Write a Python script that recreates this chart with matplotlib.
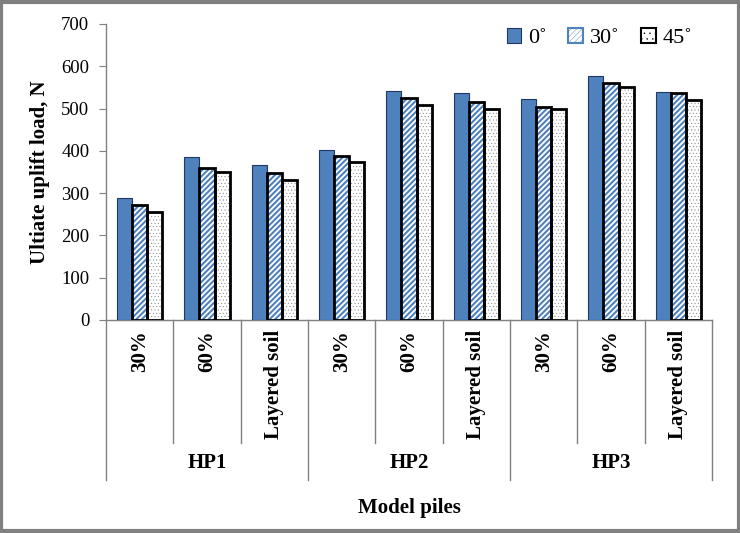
import matplotlib
matplotlib.use("Agg")
import matplotlib.pyplot as plt
from matplotlib.patches import Patch
from matplotlib.lines import Line2D
import numpy as np

plt.rcParams['font.family'] = ['Liberation Serif', 'DejaVu Serif']

groups = ['HP1', 'HP2', 'HP3']
subcats = ['30%', '60%', 'Layered soil']
series_names = ['0˚', '30˚', '45˚']
v0 = [288, 385, 366, 402, 542, 537, 522, 578, 540]
v30 = [272, 360, 348, 388, 526, 515, 503, 560, 536]
v45 = [256, 350, 332, 374, 508, 498, 498, 552, 520]

blue = '#4F81BD'
fig = plt.figure(figsize=(7.4, 5.33), dpi=100)
ax = fig.add_axes([106/740, 1-320/533, (712-106)/740, (320-24)/533])

n = len(v0)
x = np.arange(n)
w = 0.225
ax.bar(x - w, v0, w, color=blue, edgecolor='#1F3864', linewidth=0.8, zorder=3)
plt.rcParams['hatch.linewidth'] = 1.5
ax.bar(x, v30, w, color='white', edgecolor=blue, hatch='//////', linewidth=0, zorder=3)
ax.bar(x, v30, w, fill=False, edgecolor='black', linewidth=2.0, zorder=4)
plt.rcParams['hatch.linewidth'] = 0.3
ax.bar(x + w, v45, w, color='white', edgecolor='#808080', hatch='.....', linewidth=0, zorder=3)
ax.bar(x + w, v45, w, fill=False, edgecolor='black', linewidth=2.0, zorder=4)

ax.set_xlim(-0.5, n - 0.5)
ax.set_ylim(0, 700)
ax.set_yticks(range(0, 701, 100))
ax.tick_params(axis='y', labelsize=13.5, length=5, color='#808080', direction='out', pad=7)
ax.set_xticks([])
for s in ['top', 'right']:
    ax.spines[s].set_visible(False)
for s in ['left', 'bottom']:
    ax.spines[s].set_color('#808080')
    ax.spines[s].set_linewidth(1.0)

ax.set_ylabel('Ultiate uplift load, N', fontsize=15, fontweight='bold', labelpad=8)

# hierarchical x axis
trans = ax.get_xaxis_transform()
px = 1.0 / 296.0
for b in range(n + 1):
    xb = b - 0.5
    if b % 3 == 0:
        yend = -(480 - 320) * px
    else:
        yend = -(443 - 320) * px
    ax.add_line(Line2D([xb, xb], [0, yend], transform=trans, color='#808080',
                       linewidth=1.0, clip_on=False))
for i in range(n):
    ax.text(x[i], -10 * px, subcats[i % 3], transform=trans, rotation=90,
            ha='center', va='top', fontsize=15, fontweight='bold')
for g, name in enumerate(groups):
    ax.text(3 * g + 1, -(463 - 320) * px, name, transform=trans, ha='center',
            va='center', fontsize=15, fontweight='bold')
ax.text((n - 1) / 2, -(508 - 320) * px, 'Model piles', transform=trans,
        ha='center', va='center', fontsize=15, fontweight='bold')

plt.rcParams['hatch.linewidth'] = 1.5
h0 = Patch(facecolor=blue, edgecolor='#1F3864', linewidth=0.8)
h1 = Patch(facecolor='white', edgecolor=blue, hatch='//////', linewidth=1.5)
plt.rcParams['hatch.linewidth'] = 0.3
h2 = Patch(facecolor='white', edgecolor='black', hatch='...', linewidth=1.5)
leg = ax.legend([h0, h1, h2], series_names, ncol=3, frameon=False, fontsize=16,
                loc='upper right', bbox_to_anchor=(1.0, 1.055), handlelength=0.65,
                handleheight=0.65, handletextpad=0.3, columnspacing=1.0)

fig.patches.append(plt.Rectangle((0.002, 0.003), 0.996, 0.994, transform=fig.transFigure,
                                 fill=False, edgecolor='#808080', linewidth=3))
fig.savefig('out.png', dpi=100)
